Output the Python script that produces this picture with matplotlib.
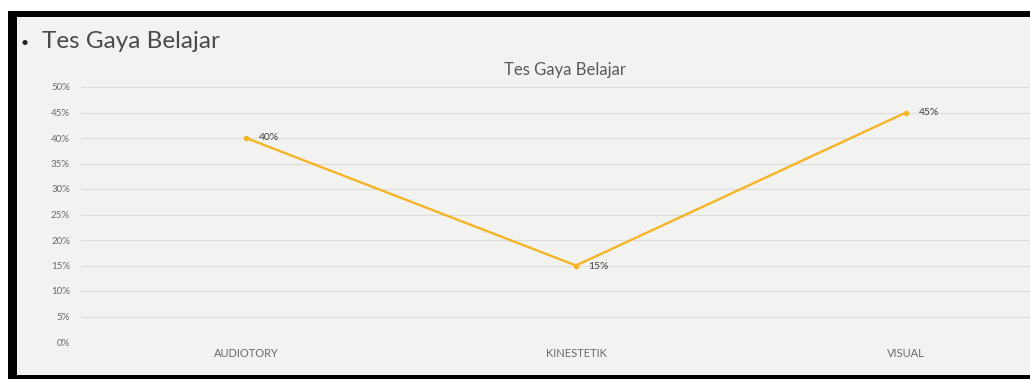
import matplotlib
matplotlib.use("Agg")
import matplotlib.pyplot as plt
from matplotlib.patches import Rectangle

categories = ["AUDIOTORY", "KINESTETIK", "VISUAL"]
values = [0.40, 0.15, 0.45]
value_labels = ["40%", "15%", "45%"]
y_ticks = [0, 0.05, 0.10, 0.15, 0.20, 0.25, 0.30, 0.35, 0.40, 0.45, 0.50]
y_tick_labels = ["0%", "5%", "10%", "15%", "20%", "25%", "30%", "35%", "40%", "45%", "50%"]

W, H = 1030, 379
fig = plt.figure(figsize=(W / 100, H / 100), dpi=100)
fig.patch.set_facecolor("white")

def px_rect(x0, y0, x1, y1, color, z=0):
    fig.patches.append(Rectangle((x0 / W, 1 - y1 / H), (x1 - x0) / W, (y1 - y0) / H,
                                 transform=fig.transFigure, facecolor=color,
                                 edgecolor="none", zorder=z))

# slide panel and black borders
px_rect(8, 11, 1030, 379, "#f2f2f0", z=-3)
px_rect(8, 11, 1030, 17, "black", z=-2)
px_rect(8, 11, 17, 379, "black", z=-2)
px_rect(8, 375, 1030, 379, "black", z=-2)

fig.text(21 / W, 1 - 43 / H, "•", fontsize=10, color="#222222", va="center", ha="left",
         family="Lato")
fig.text(42 / W, 1 - 42 / H, "Tes Gaya Belajar", fontsize=17.5, color="#4a4a4a",
         va="center", ha="left", family="Lato")

left = 81 / W
bottom = (H - 342) / H
top = (H - 87) / H
ax = fig.add_axes([left, bottom, (1030 - 81) / W, top - bottom])
ax.set_facecolor("none")
x = list(range(len(categories)))
ax.plot(x, values, color="#f5b426", linewidth=1.7, marker="o", markersize=3, zorder=3)
ax.set_xlim(-0.5, (1030 - 246) / 330)
ax.set_ylim(0, 0.5)
ax.set_yticks(y_ticks)
ax.set_yticklabels(y_tick_labels, fontsize=7, color="#6a6a6a", family="Lato")
ax.set_xticks(x)
ax.set_xticklabels(categories, fontsize=8, color="#6a6a6a", family="Lato")
ax.tick_params(length=0)
ax.tick_params(axis="x", pad=4)
ax.tick_params(axis="y", pad=8)
ax.grid(axis="y", color="#dcdcda", linewidth=0.8)
ax.set_axisbelow(True)
for s in ax.spines.values():
    s.set_visible(False)

offsets = [(13, 0), (12, -1), (13, 0)]
for xi, v, lab, (dx, dy) in zip(x, values, value_labels, offsets):
    ax.annotate(lab, (xi, v), xytext=(dx * 0.72, dy * 0.72), textcoords="offset points",
                fontsize=7.5, color="#404040", va="center", ha="left", family="Lato")

fig.text(565 / W, 1 - 70 / H, "Tes Gaya Belajar", fontsize=12, color="#595959",
         ha="center", va="center", family="Lato")

fig.savefig("out.png", dpi=100)
